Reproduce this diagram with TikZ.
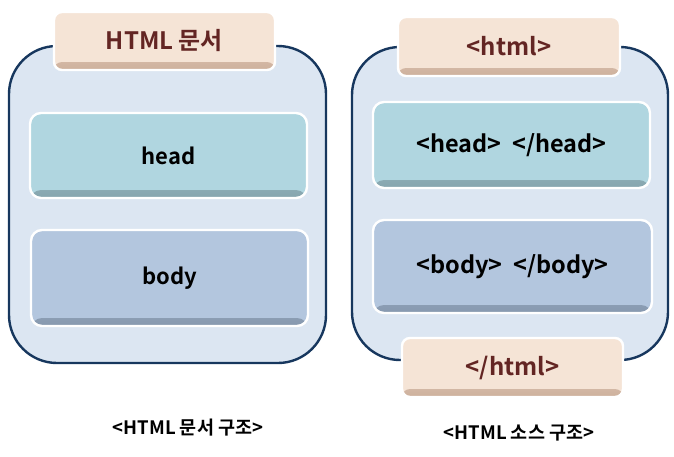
\documentclass[tikz,border=0pt]{standalone}
\usepackage{fontspec}
\setmainfont{Noto Sans CJK KR}[BoldFont={Noto Sans CJK KR Bold}]
\definecolor{framefill}{HTML}{DCE6F2}
\definecolor{framedraw}{HTML}{17375E}
\definecolor{tagfill}{HTML}{F5E4D6}
\definecolor{tagdark}{HTML}{CDB09C}
\definecolor{tagtext}{HTML}{632523}
\definecolor{headfill}{HTML}{B0D6E0}
\definecolor{headdark}{HTML}{86A5AE}
\definecolor{bodyfill}{HTML}{B3C6DE}
\definecolor{bodydark}{HTML}{8799AF}
\tikzset{
  frame/.style={draw=framedraw, line width=2.4pt, fill=framefill, rounded corners=48pt},
  part/.style={draw=white, line width=2.4pt, rounded corners=11pt, font=\bfseries\fontsize{22}{24}\selectfont,
    path picture={\shade[top color=#1fill, bottom color=#1dark]
      ([yshift=8pt]path picture bounding box.south west) rectangle (path picture bounding box.south east);},
    fill=#1fill},
  tag/.style={part=tag, rounded corners=8pt, text=tagtext, font=\bfseries\fontsize{24}{26}\selectfont},
  srcpart/.style={part=#1, font=\bfseries\fontsize{23.5}{26}\selectfont},
  caption/.style={font=\bfseries\fontsize{18.5}{20}\selectfont}
}
\begin{document}
\begin{tikzpicture}[x=1pt, y=-1pt]
    \useasboundingbox (0, 0) rectangle (674, 456);
    % left: document structure
    \node[frame, minimum width=317pt, minimum height=317pt] (doc) at (167.5, 204.5) {};
    \node[tag, minimum width=221pt, minimum height=58pt] (doctitle) at (164.5, 41) {HTML 문서};
    \node[part=head, minimum width=277pt, minimum height=85pt] (head) at (168.5, 155.5) {head};
    \node[part=body, minimum width=277pt, minimum height=96pt] (body) at (169.5, 278) {body};
    \node[caption] (doccap) at (188, 428) {<HTML 문서 구조>};
    % right: source structure
    \node[frame, minimum width=316pt, minimum height=313pt] (src) at (510, 203.5) {};
    \node[tag, minimum width=222pt, minimum height=59pt] (htmlopen) at (509, 46.5) {<html>};
    \node[srcpart=head, minimum width=277pt, minimum height=86pt] (headtag) at (511.5, 145) {<head>\ \ </head>};
    \node[srcpart=body, minimum width=279pt, minimum height=93pt] (bodytag) at (512.5, 266.5) {<body>\ \ </body>};
    \node[tag, minimum width=221pt, minimum height=59pt] (htmlclose) at (512.5, 367.5) {</html>};
    \node[caption] (srccap) at (519, 433) {<HTML 소스 구조>};
\end{tikzpicture}
\end{document}
